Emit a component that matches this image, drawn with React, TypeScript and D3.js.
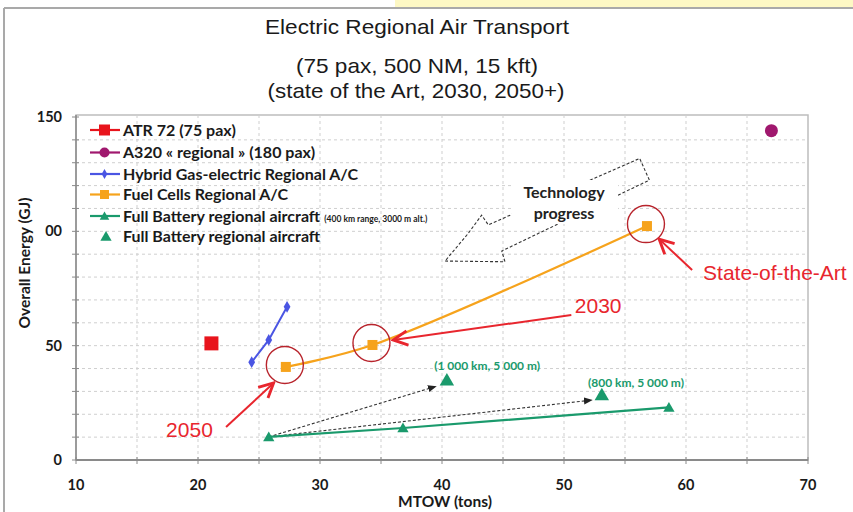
import React from "react";
import * as d3 from "d3";

// ---- data (MTOW in tons, overall energy in GJ) ----
const atrX = [21.1];
const atrY = [51];
const a320X = [67];
const a320Y = [144];
const hybridX = [24.4, 25.8, 27.3];
const hybridY = [42.8, 52.5, 67.0];
const fuelX = [27.2, 34.3, 56.8];
const fuelY = [40.7, 50.3, 102.3];
const batteryX = [25.8, 36.8, 58.6];
const batteryY = [10.1, 14.0, 23.0];
const batteryAltX = [40.4, 53.1];
const batteryAltY = [34.8, 28.4];
const batteryAltLabels = ["(1 000 km, 5 000 m)", "(800 km, 5 000 m)"];
const batteryAltLabelPos = [
  [43.7, 41.1],
  [55.9, 33.7],
];

const xTicks = [10, 20, 30, 40, 50, 60, 70];
const yTicks = [0, 50, 100, 150];
const yTickLabels = ["0", "50", "00", "150"];

const legendLabels = [
  "ATR 72 (75 pax)",
  "A320 « regional » (180 pax)",
  "Hybrid Gas-electric Regional A/C",
  "Fuel Cells Regional A/C",
  "Full Battery regional aircraft",
  "Full Battery regional aircraft",
];

// Milestone call-outs: label, label anchor, arrow start, arrow end
const milestones = [
  { label: "2050", at: [19.3, 13.4], anchor: "middle", from: [22.3, 14.4], to: [26.2, 33.7] },
  { label: "2030", at: [52.8, 67.6], anchor: "middle", from: [50.6, 63.4], to: [36.0, 52.5] },
  { label: "State-of-the-Art", at: [61.4, 82.0], anchor: "start", from: [60.5, 83.1], to: [57.8, 96.6] },
];

// "Technology progress" broken arrow outline (data coordinates)
const progressArrow = [
  [40.25, 87.0],
  [45.16, 86.7],
  [44.9, 91.4],
  [57.0, 122.4],
  [56.2, 131.9],
  [45.3, 106.4],
  [43.8, 102.8],
  [43.25, 107.1],
  [42.15, 99.1],
];

const COLORS = {
  atr: "#e8141c",
  a320: "#a0186e",
  hybrid: "#4a55e3",
  fuel: "#f6a31c",
  battery: "#1a9a6c",
  red: "#e8262e",
  circle: "#b8242c",
};

const W = 853;
const H = 512;
const x = d3.scaleLinear().domain([10, 70]).range([76, 808]);
const y = d3.scaleLinear().domain([0, 150]).range([460, 117]);

const FONT = "Lato, 'Open Sans', sans-serif";
const ARIAL = "'Liberation Sans', Arial, sans-serif";

function sym(type: d3.SymbolType, size: number) {
  return d3.symbol().type(type).size(size)() as string;
}

export default function App() {
  const line = d3
    .line<[number, number]>()
    .x((d) => x(d[0]))
    .y((d) => y(d[1]));
  const curved = d3
    .line<[number, number]>()
    .x((d) => x(d[0]))
    .y((d) => y(d[1]))
    .curve(d3.curveCatmullRom.alpha(0.5));

  const hybridPts = hybridX.map((v, i) => [v, hybridY[i]] as [number, number]);
  const fuelPts = fuelX.map((v, i) => [v, fuelY[i]] as [number, number]);
  const batteryPts = batteryX.map((v, i) => [v, batteryY[i]] as [number, number]);

  const vGrid = d3.range(15, 70, 5);
  const hGrid = d3.range(10, 150, 10);
  const xMinor = d3.range(10, 71, 5);
  const yMinor = d3.range(0, 151, 10);

  const legendY = [130, 152.5, 174, 194.5, 216, 236.5];

  return (
    <svg
      width={W}
      height={H}
      style={{ position: "fixed", left: 0, top: 0, background: "#fff" }}
      viewBox={`0 0 ${W} ${H}`}
    >
      <defs>
        <marker id="redHead" viewBox="0 0 10 10" refX="9" refY="5" markerWidth="9" markerHeight="9" orient="auto">
          <path d="M1,1 L9,5 L1,9" fill="none" stroke={COLORS.red} strokeWidth="1.6" />
        </marker>
        <marker id="blackHead" viewBox="0 0 10 10" refX="9" refY="5" markerWidth="8" markerHeight="8" orient="auto">
          <path d="M0,1 L10,5 L0,9 Z" fill="#222" />
        </marker>
      </defs>

      {/* page frame */}
      <rect x={395} y={0} width={W - 395} height={7} fill="#fdf8c4" />
      <line x1={4} y1={8} x2={W} y2={8} stroke="#a9a9a9" strokeWidth={2} />
      <line x1={4} y1={8} x2={4} y2={H} stroke="#a9a9a9" strokeWidth={2} />

      {/* title */}
      <g fontFamily={ARIAL} fill="#1a1a1a" textAnchor="middle">
        <text x={417} y={34} fontSize={21} textLength={304} lengthAdjust="spacingAndGlyphs">
          Electric Regional Air Transport
        </text>
        <text x={417} y={73} fontSize={21} textLength={242} lengthAdjust="spacingAndGlyphs">
          (75 pax, 500 NM, 15 kft)
        </text>
        <text x={416} y={98} fontSize={21} textLength={297} lengthAdjust="spacingAndGlyphs">
          (state of the Art, 2030, 2050+)
        </text>
      </g>

      {/* plot frame */}
      <rect x={x(10)} y={115} width={x(70) - x(10)} height={y(0) - 115} fill="none" stroke="#bdbdbd" strokeWidth={1.5} />

      {/* grid */}
      <g stroke="#cfcfcf" strokeWidth={1} strokeDasharray="3,3">
        {vGrid.map((v) => (
          <line key={"v" + v} x1={x(v)} x2={x(v)} y1={115} y2={y(0)} />
        ))}
        {hGrid.map((v) => (
          <line key={"h" + v} x1={x(10)} x2={x(70)} y1={y(v)} y2={y(v)} />
        ))}
      </g>

      {/* axes */}
      <g stroke="#8a8a8a" strokeWidth={1.5}>
        <line x1={x(10)} x2={x(10)} y1={115} y2={y(0)} />
        <line x1={x(10)} x2={x(70)} y1={y(0)} y2={y(0)} strokeWidth={2} />
        {xMinor.map((v) => (
          <line key={"xt" + v} x1={x(v)} x2={x(v)} y1={y(0) - 3} y2={y(0) + 4} strokeWidth={1} />
        ))}
        {yMinor.map((v) => (
          <line key={"yt" + v} x1={x(10) - 4} x2={x(10) + 3} y1={y(v)} y2={y(v)} strokeWidth={1} />
        ))}
      </g>

      <g fontFamily={FONT} fontWeight={700} fontSize={14.5} fill="#1a1a1a">
        {xTicks.map((v) => (
          <text key={"xl" + v} x={x(v)} y={490} textAnchor="middle">
            {v}
          </text>
        ))}
        {yTicks.map((v, i) => (
          <text key={"yl" + v} x={62} y={y(v)} dy="0.35em" textAnchor="end">
            {yTickLabels[i]}
          </text>
        ))}
        <text x={445} y={507} textAnchor="middle" fontSize={15.5}>
          MTOW (tons)
        </text>
        <text transform={`translate(30,263) rotate(-90)`} textAnchor="middle" fontSize={15.5}>
          Overall Energy (GJ)
        </text>
      </g>

      {/* technology progress broken arrow */}
      <path
        d={(line(progressArrow as [number, number][]) as string) + "Z"}
        fill="none"
        stroke="#333"
        strokeWidth={1.1}
        strokeDasharray="3,2"
      />
      <rect x={512} y={180} width={106} height={44} fill="#fff" />
      <g fontFamily={FONT} fontWeight={700} fontSize={16} fill="#222" textAnchor="middle">
        <text x={564} y={198}>Technology</text>
        <text x={564} y={219}>progress</text>
      </g>

      {/* battery trend arrows */}
      {batteryAltX.map((v, i) => (
        <line
          key={"ba" + i}
          x1={x(batteryX[0])}
          y1={y(batteryY[0])}
          x2={x(v) - (i === 0 ? 11 : 10)}
          y2={y(batteryAltY[i]) + (i === 0 ? 6 : 5)}
          stroke="#333"
          strokeWidth={1.1}
          strokeDasharray="3,2"
          markerEnd="url(#blackHead)"
        />
      ))}

      {/* series lines */}
      <path d={line(hybridPts) as string} fill="none" stroke={COLORS.hybrid} strokeWidth={2} />
      <path d={curved(fuelPts) as string} fill="none" stroke={COLORS.fuel} strokeWidth={2.2} />
      <path d={line(batteryPts) as string} fill="none" stroke={COLORS.battery} strokeWidth={2.2} />

      {/* markers */}
      {atrX.map((v, i) => (
        <rect key={"atr" + i} x={x(v) - 7} y={y(atrY[i]) - 7} width={14} height={14} fill={COLORS.atr} />
      ))}
      {a320X.map((v, i) => (
        <circle key={"a3" + i} cx={x(v)} cy={y(a320Y[i])} r={6.5} fill={COLORS.a320} />
      ))}
      {hybridPts.map((p, i) => (
        <path key={"hy" + i} transform={`translate(${x(p[0])},${y(p[1])})`} d={sym(d3.symbolDiamond, 40)} fill={COLORS.hybrid} />
      ))}
      {fuelPts.map((p, i) => (
        <rect key={"fu" + i} x={x(p[0]) - 5} y={y(p[1]) - 5} width={10} height={10} fill={COLORS.fuel} />
      ))}
      {batteryPts.map((p, i) => (
        <path key={"bt" + i} transform={`translate(${x(p[0])},${y(p[1]) + 1})`} d={sym(d3.symbolTriangle, 55)} fill={COLORS.battery} />
      ))}
      {batteryAltX.map((v, i) => (
        <path key={"bt2" + i} transform={`translate(${x(v)},${y(batteryAltY[i]) + 1})`} d={sym(d3.symbolTriangle, 90)} fill={COLORS.battery} />
      ))}
      <g fontFamily={FONT} fontWeight={700} fontSize={12} fill={COLORS.battery} textAnchor="middle">
        {batteryAltLabels.map((t, i) => (
          <text key={"bl" + i} x={x(batteryAltLabelPos[i][0])} y={y(batteryAltLabelPos[i][1])} dy="0.35em">
            {t}
          </text>
        ))}
      </g>

      {/* milestone circles */}
      {fuelPts.map((p, i) => (
        <circle key={"mc" + i} cx={x(p[0]) - 1} cy={y(p[1]) - 2} r={18.5} fill="none" stroke={COLORS.circle} strokeWidth={1.4} />
      ))}

      {/* milestone call-outs */}
      {milestones.map((m) => (
        <g key={m.label}>
          <line
            x1={x(m.from[0])}
            y1={y(m.from[1])}
            x2={x(m.to[0])}
            y2={y(m.to[1])}
            stroke={COLORS.red}
            strokeWidth={2}
            markerEnd="url(#redHead)"
          />
          <text
            x={x(m.at[0])}
            y={y(m.at[1])}
            dy="0.35em"
            textAnchor={m.anchor}
            fontFamily={ARIAL}
            fontSize={21}
            fill={COLORS.red}
          >
            {m.label}
          </text>
        </g>
      ))}

      {/* legend */}
      <g fontFamily={FONT} fontWeight={700} fontSize={16} fill="#1a1a1a">
        {legendLabels.map((t, i) => {
          const cy = legendY[i];
          const color = [COLORS.atr, COLORS.a320, COLORS.hybrid, COLORS.fuel, COLORS.battery, COLORS.battery][i];
          return (
            <g key={"lg" + i}>
              {i < 5 && <line x1={90} x2={120} y1={cy} y2={cy} stroke={color} strokeWidth={2.2} />}
              {i === 0 && <rect x={99} y={cy - 5.5} width={11} height={11} fill={color} />}
              {i === 1 && <circle cx={104.5} cy={cy} r={5} fill={color} />}
              {i === 2 && <path transform={`translate(104.5,${cy})`} d={sym(d3.symbolDiamond, 28)} fill={color} />}
              {i === 3 && <rect x={100} y={cy - 4.5} width={9} height={9} fill={color} />}
              {(i === 4 || i === 5) && (
                <path transform={`translate(${i === 5 ? 106 : 104.5},${cy + 1})`} d={sym(d3.symbolTriangle, i === 5 ? 55 : 40)} fill={color} />
              )}
              <text x={123} y={cy} dy="0.35em">
                {t}
                {i === 4 && (
                  <tspan fontSize={8.5} dx={4}>
                    (400 km range, 3000 m alt.)
                  </tspan>
                )}
              </text>
            </g>
          );
        })}
      </g>
    </svg>
  );
}
